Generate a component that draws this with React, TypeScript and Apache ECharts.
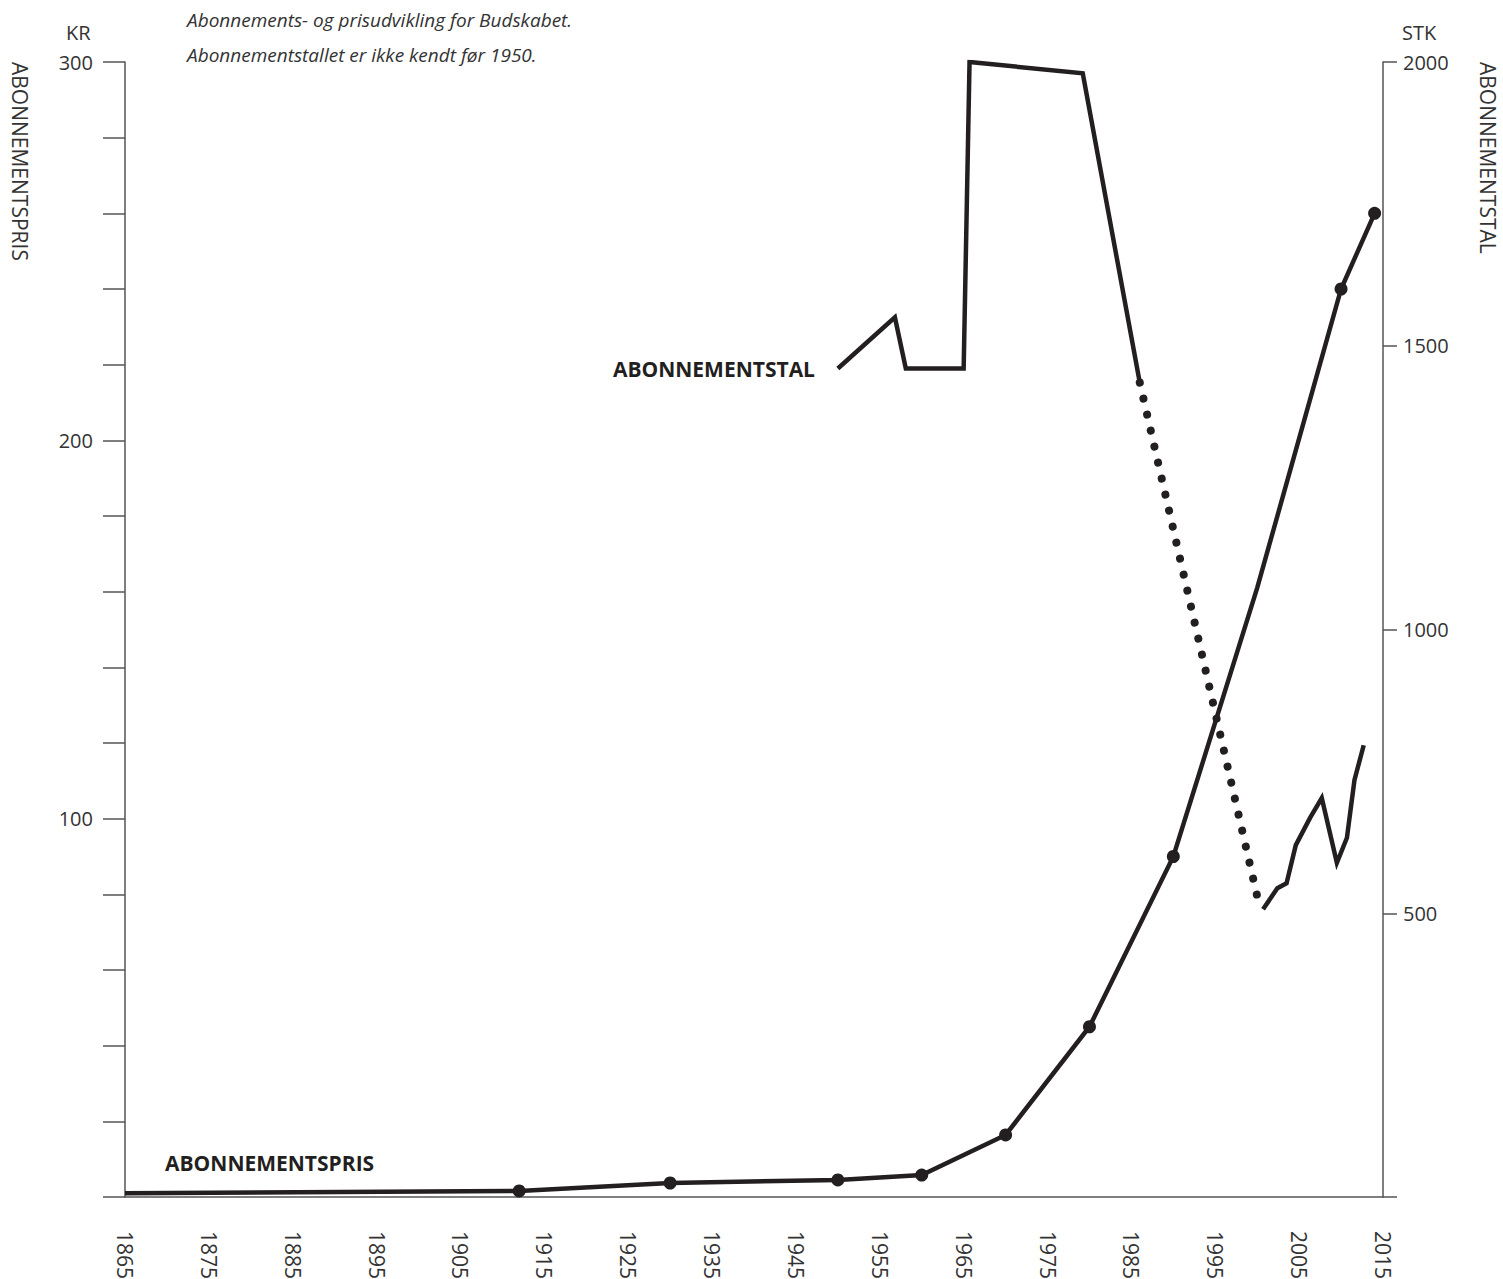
import React, { useEffect, useRef } from 'react';
import * as echarts from 'echarts';

// Abonnementspris (kr), left axis
const priceYears = [1865, 1912, 1930, 1950, 1960, 1970, 1980, 1990, 2000, 2010, 2014];
const priceValues = [1, 1.6, 3.7, 4.5, 5.8, 16.4, 45, 90, 161, 240, 260];
const priceMarked = [false, true, true, true, true, true, true, true, false, true, true];

// Abonnementstal (stk), right axis
const subsYearsA = [1950, 1956.8, 1958.1, 1965, 1965.7, 1979.2, 1986];
const subsValuesA = [1460, 1550, 1460, 1460, 2000, 1980, 1435];
const subsYearsB = [1986, 2000];
const subsValuesB = [1435, 530];
const subsYearsC = [2000.7, 2002.4, 2003.5, 2004.6, 2006.3, 2007.7, 2009.5, 2010.7, 2011.6, 2012.7];
const subsValuesC = [507, 544, 553, 620, 668, 703, 589, 633, 735, 796];

const xMin = 1865;
const xMax = 2015;
const xLabelStep = 10;
const priceMax = 300;
const priceStep = 20;
const priceLabelStep = 100;
const subsMax = 2000;
const subsStep = 500;

const INK = '#231f20';
const AXIS = '#555555';
const TEXT = '#333333';
const FONT = '"Open Sans", "Noto Sans", sans-serif';

export default function App() {
  const ref = useRef<HTMLDivElement>(null);

  useEffect(() => {
    if (!ref.current) return;
    const chart = echarts.init(ref.current, null, { renderer: 'svg' });
    const pair = (xs: number[], ys: number[]) => xs.map((x, i) => [x, ys[i]]);

    chart.setOption({
      animation: false,
      backgroundColor: '#ffffff',
      grid: { left: 125, right: 120, top: 62, bottom: 82, containLabel: false, outerBoundsMode: 'none' },
      xAxis: {
        type: 'value',
        min: xMin,
        max: xMax,
        interval: 5,
        axisLine: { show: true, onZero: false, lineStyle: { color: AXIS, width: 1.5 } },
        axisTick: { show: false },
        splitLine: { show: false },
        axisLabel: {
          rotate: -90,
          margin: 34,
          fontSize: 21,
          color: TEXT,
          fontFamily: FONT,
          formatter: (v: number) => ((v - xMin) % xLabelStep === 0 ? String(v) : ''),
        },
      },
      yAxis: [
        {
          type: 'value',
          position: 'left',
          min: 0,
          max: priceMax,
          interval: priceStep,
          axisLine: { show: true, lineStyle: { color: AXIS, width: 1.5 } },
          axisTick: { show: true, length: 22, lineStyle: { color: AXIS, width: 1.5 } },
          splitLine: { show: false },
          axisLabel: {
            margin: 32,
            fontSize: 20,
            color: TEXT,
            fontFamily: FONT,
            formatter: (v: number) => (v > 0 && v % priceLabelStep === 0 ? String(v) : ''),
          },
        },
        {
          type: 'value',
          position: 'right',
          min: 0,
          max: subsMax,
          interval: subsStep,
          axisLine: { show: true, lineStyle: { color: AXIS, width: 1.5 } },
          axisTick: { show: true, length: 14, lineStyle: { color: AXIS, width: 1.5 } },
          splitLine: { show: false },
          axisLabel: {
            margin: 20,
            fontSize: 20,
            color: TEXT,
            fontFamily: FONT,
            formatter: (v: number) => (v > 0 ? String(v) : ''),
          },
        },
      ],
      series: [
        {
          type: 'line',
          yAxisIndex: 0,
          data: priceYears.map((y, i) => ({
            value: [y, priceValues[i]],
            symbol: priceMarked[i] ? 'circle' : 'none',
          })),
          symbolSize: 13,
          itemStyle: { color: INK },
          lineStyle: { color: INK, width: 4.5, join: 'miter' },
          z: 3,
        },
        {
          type: 'line',
          yAxisIndex: 1,
          data: pair(subsYearsA, subsValuesA),
          symbol: 'none',
          lineStyle: { color: INK, width: 4.5, join: 'miter' },
        },
        {
          type: 'line',
          yAxisIndex: 1,
          data: pair(subsYearsB, subsValuesB),
          symbol: 'none',
          lineStyle: { color: INK, width: 8, type: [0.01, 16.4], cap: 'round' },
        },
        {
          type: 'line',
          yAxisIndex: 1,
          data: pair(subsYearsC, subsValuesC),
          symbol: 'none',
          lineStyle: { color: INK, width: 4.5, join: 'miter' },
        },
      ],
      graphic: [
        {
          type: 'text', x: 187, y: 20,
          style: { text: 'Abonnements- og prisudvikling for Budskabet.', font: `italic 19px ${FONT}`, fill: TEXT, textVerticalAlign: 'middle' },
        },
        {
          type: 'text', x: 187, y: 55,
          style: { text: 'Abonnementstallet er ikke kendt før 1950.', font: `italic 19px ${FONT}`, fill: TEXT, textVerticalAlign: 'middle' },
        },
        {
          type: 'text', x: 66, y: 32,
          style: { text: 'KR', font: `20px ${FONT}`, fill: TEXT, textVerticalAlign: 'middle' },
        },
        {
          type: 'text', x: 1402, y: 32,
          style: { text: 'STK', font: `20px ${FONT}`, fill: TEXT, textVerticalAlign: 'middle' },
        },
        {
          type: 'text', x: 20, y: 62, rotation: -Math.PI / 2,
          style: { text: 'ABONNEMENTSPRIS', font: `21px ${FONT}`, fill: TEXT, textAlign: 'left', textVerticalAlign: 'middle' },
        },
        {
          type: 'text', x: 1488, y: 62, rotation: -Math.PI / 2,
          style: { text: 'ABONNEMENTSTAL', font: `21px ${FONT}`, fill: TEXT, textAlign: 'left', textVerticalAlign: 'middle' },
        },
        {
          type: 'text', x: 815, y: 369,
          style: { text: 'ABONNEMENTSTAL', font: `bold 21px ${FONT}`, fill: INK, textAlign: 'right', textVerticalAlign: 'middle' },
        },
        {
          type: 'text', x: 165, y: 1163,
          style: { text: 'ABONNEMENTSPRIS', font: `bold 21px ${FONT}`, fill: INK, textAlign: 'left', textVerticalAlign: 'middle' },
        },
      ],
    });

    return () => chart.dispose();
  }, []);

  return (
    <div
      ref={ref}
      style={{ position: 'fixed', left: 0, top: 0, width: 1503, height: 1279 }}
    />
  );
}
